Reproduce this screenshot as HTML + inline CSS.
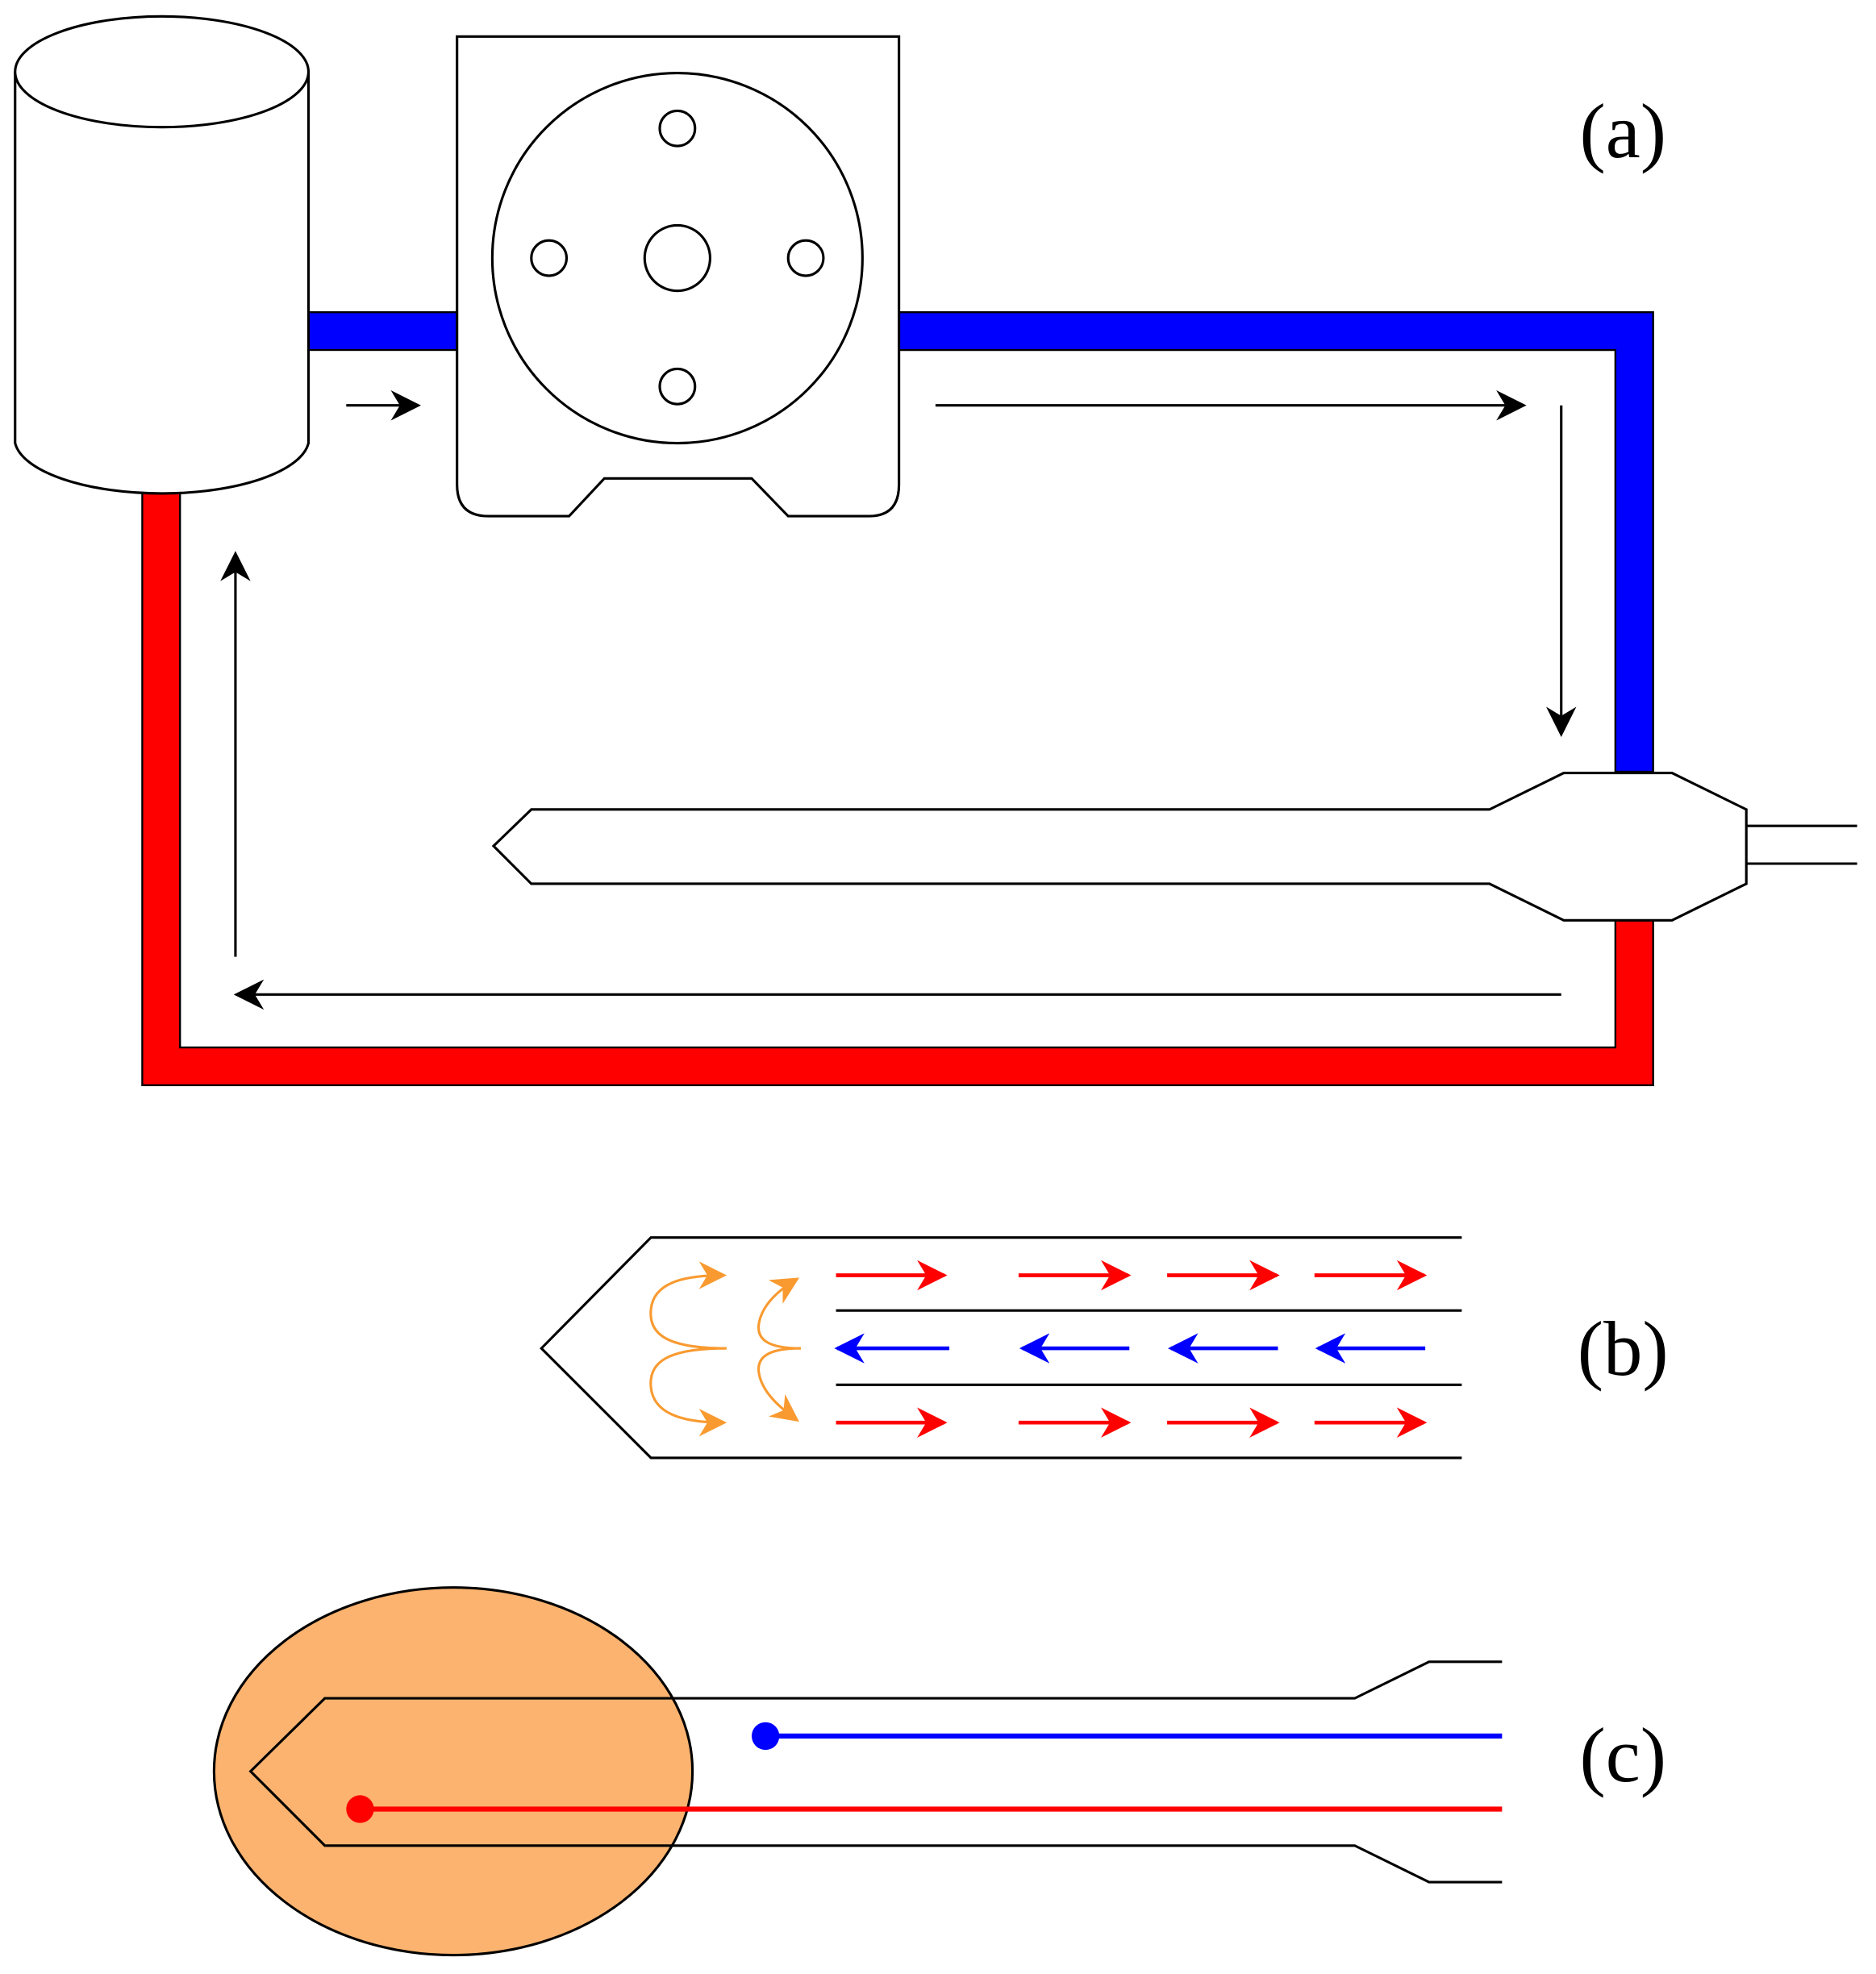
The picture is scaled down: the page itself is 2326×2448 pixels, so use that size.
<!DOCTYPE html>
<html><head><meta charset="utf-8"><style>html,body{margin:0;padding:0;background:#fff}svg{display:block}</style></head>
<body>
<svg width="2326" height="2448" viewBox="0 0 1490 1568" preserveAspectRatio="none" xmlns="http://www.w3.org/2000/svg">
<defs>
<marker id="ak" viewBox="0 0 10 10" refX="9" refY="5" markerWidth="24" markerHeight="24" markerUnits="userSpaceOnUse" orient="auto"><path d="M0,0 L10,5 L0,10 L3,5 z" fill="#000"/></marker>
<marker id="ar" viewBox="0 0 10 10" refX="9" refY="5" markerWidth="24" markerHeight="24" markerUnits="userSpaceOnUse" orient="auto"><path d="M0,0 L10,5 L0,10 L3,5 z" fill="#f00"/></marker>
<marker id="ab" viewBox="0 0 10 10" refX="9" refY="5" markerWidth="24" markerHeight="24" markerUnits="userSpaceOnUse" orient="auto"><path d="M0,0 L10,5 L0,10 L3,5 z" fill="#00f"/></marker>
<marker id="ao" viewBox="0 0 10 10" refX="9" refY="5" markerWidth="22" markerHeight="22" markerUnits="userSpaceOnUse" orient="auto"><path d="M0,0 L10,5 L0,10 L3,5 z" fill="#f99a30"/></marker>
</defs>
<g stroke="#000" stroke-width="1.5">
<rect x="245" y="248" width="118" height="30" fill="#00f"/>
<path d="M714,248 H1313 V613 H1283 V278 H714 Z" fill="#00f"/>
<path d="M113,390 V862 H1313 V731 H1283 V832 H143 V390 Z" fill="#f00"/>
</g>
<g fill="#fff" stroke="#000" stroke-width="2">
<path d="M12,57 V352 A117,44 0 0 0 245,352 V57"/>
<ellipse cx="128.5" cy="57" rx="116.5" ry="44"/>
<path d="M363,29 H714 V385 Q714,410 690,410 H626 L597,380 H480 L452,410 H388 Q363,410 363,385 Z"/>
<circle cx="538" cy="205" r="147"/>
<circle cx="538" cy="205" r="26"/>
<circle cx="538" cy="102" r="14"/>
<circle cx="538" cy="307" r="14"/>
<circle cx="436" cy="205" r="14"/>
<circle cx="640" cy="205" r="14"/>
<path d="M392,672 L422,643 H1183 L1242,614 H1328 L1387,643 V702 L1328,731 H1242 L1183,702 H422 Z"/>
<path d="M1387,656 H1475 M1387,686 H1475" fill="none"/>
</g>
<g stroke="#000" stroke-width="2" fill="none" marker-end="url(#ak)">
<path d="M275,322 H332"/>
<path d="M743,322 H1210"/>
<path d="M1240,322 V583"/>
<path d="M1240,790 H188"/>
<path d="M187,760 V440"/>
</g>
<g font-family="'Liberation Serif',serif" font-size="62" text-anchor="middle">
<text x="1289" y="125">(a)</text>
<text x="1289" y="1092">(b)</text>
<text x="1289" y="1415">(c)</text>
</g>
<g stroke="#000" stroke-width="2" fill="none">
<path d="M1161,983 H517 L430,1071 L517,1158 H1161"/>
<path d="M664,1041 H1161 M664,1100 H1161"/>
</g>
<g stroke="#f00" stroke-width="3" marker-end="url(#ar)">
<path d="M664,1013 H750"/><path d="M809,1013 H896"/><path d="M927,1013 H1014"/><path d="M1044,1013 H1131"/>
<path d="M664,1130 H750"/><path d="M809,1130 H896"/><path d="M927,1130 H1014"/><path d="M1044,1130 H1131"/>
</g>
<g stroke="#00f" stroke-width="3" marker-end="url(#ab)">
<path d="M754,1071 H665"/><path d="M897,1071 H812"/><path d="M1015,1071 H930"/><path d="M1132,1071 H1047"/>
</g>
<g stroke="#f99a30" stroke-width="2" fill="none" marker-end="url(#ao)">
<path d="M577,1071 C530,1071 515,1060 517,1040 C519,1020 540,1013 575,1013"/>
<path d="M577,1071 C530,1071 515,1082 517,1102 C519,1122 540,1130 575,1130"/>
<path d="M636,1071 C610,1071 600,1064 603,1050 C606,1036 618,1025 633,1016"/>
<path d="M636,1071 C610,1071 600,1078 603,1092 C606,1106 618,1117 633,1128"/>
</g>
<ellipse cx="360" cy="1407" rx="190" ry="146" fill="#fbb36f" stroke="#000" stroke-width="2"/>
<path d="M1193,1320 H1135 L1076,1349 H258 L199,1407 L258,1466 H1076 L1135,1495 H1193" fill="none" stroke="#000" stroke-width="2"/>
<path d="M608,1379 H1193" stroke="#00f" stroke-width="4"/>
<circle cx="608" cy="1379" r="11" fill="#00f"/>
<path d="M286,1437 H1193" stroke="#f00" stroke-width="4"/>
<circle cx="286" cy="1437" r="11" fill="#f00"/>
</svg>
</body></html>
